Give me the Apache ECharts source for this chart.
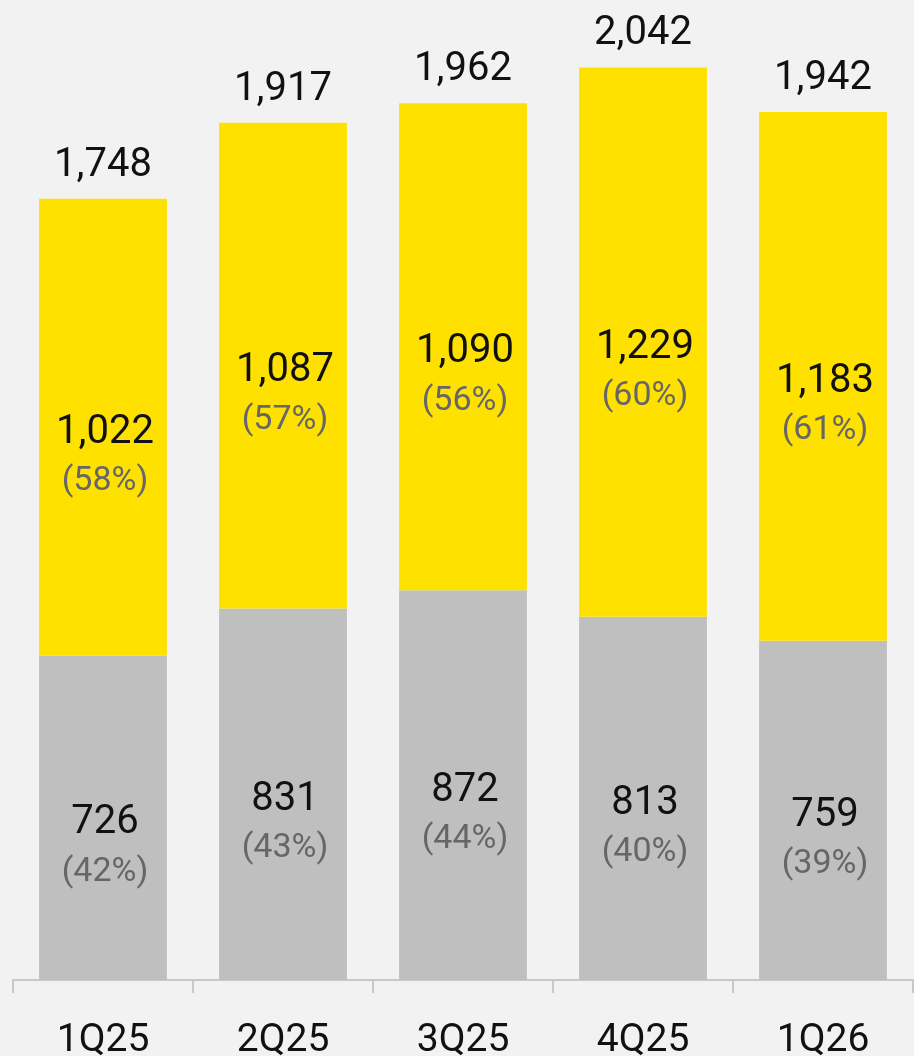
<!DOCTYPE html>
<html>
<head>
<meta charset="utf-8">
<style>
  html, body { margin: 0; padding: 0; background: #f2f2f2; }
  #chart { width: 914px; height: 1056px; }
</style>
<script src="https://cdn.jsdelivr.net/npm/echarts@6/dist/echarts.min.js"></script>
</head>
<body>
<div id="chart"></div>
<script>
var quarters = ['1Q25', '2Q25', '3Q25', '4Q25', '1Q26'];
var grayValues = [726, 831, 872, 813, 759];
var grayShares = [42, 43, 44, 40, 39];
var yellowValues = [1022, 1087, 1090, 1229, 1183];
var yellowShares = [58, 57, 56, 60, 61];
var totals = [1748, 1917, 1962, 2042, 1942];

var fontFamily = 'Roboto, "Noto Sans", sans-serif';

function fmt(v) {
    return v.toLocaleString('en-US');
}

function insideLabel(shares) {
    return {
        show: true,
        position: 'inside',
        offset: [2, 30],
        formatter: function (p) {
            return '{v|' + fmt(p.value) + '}\n{p|(' + shares[p.dataIndex] + '%)}';
        },
        rich: {
            v: { fontSize: 40, color: '#111', lineHeight: 49, fontFamily: fontFamily },
            p: { fontSize: 34, color: '#666', lineHeight: 49, fontFamily: fontFamily }
        }
    };
}

var chart = echarts.init(document.getElementById('chart'));

var option = {
    backgroundColor: '#f2f2f2',
    animation: false,
    grid: { left: 13, right: 1, top: 41.5, bottom: 76, outerBoundsMode: 'none', containLabel: false },
    xAxis: {
        type: 'category',
        data: quarters,
        axisLine: { lineStyle: { color: '#c8c8c8', width: 2 } },
        axisTick: { show: true, length: 13, lineStyle: { color: '#c8c8c8', width: 2 } },
        axisLabel: { color: '#111', fontSize: 39, margin: 42, fontFamily: fontFamily }
    },
    yAxis: {
        type: 'value',
        min: 0,
        max: 2100,
        show: false,
        splitLine: { show: false }
    },
    series: [
        {
            name: 'gray',
            type: 'bar',
            stack: 'total',
            data: grayValues,
            barCategoryGap: '29%',
            itemStyle: { color: '#bfbfbf' },
            label: insideLabel(grayShares)
        },
        {
            name: 'yellow',
            type: 'bar',
            stack: 'total',
            data: yellowValues,
            itemStyle: { color: '#ffe100' },
            label: insideLabel(yellowShares)
        },
        {
            // invisible bar to carry the total above each stack
            name: 'total',
            type: 'bar',
            stack: 'total',
            data: totals.map(function () { return 0; }),
            itemStyle: { color: 'transparent' },
            label: {
                show: true,
                position: 'top',
                distance: 13,
                color: '#111',
                fontSize: 40,
                fontFamily: fontFamily,
                formatter: function (p) { return fmt(totals[p.dataIndex]); }
            }
        }
    ]
};

chart.setOption(option);
</script>
</body>
</html>
